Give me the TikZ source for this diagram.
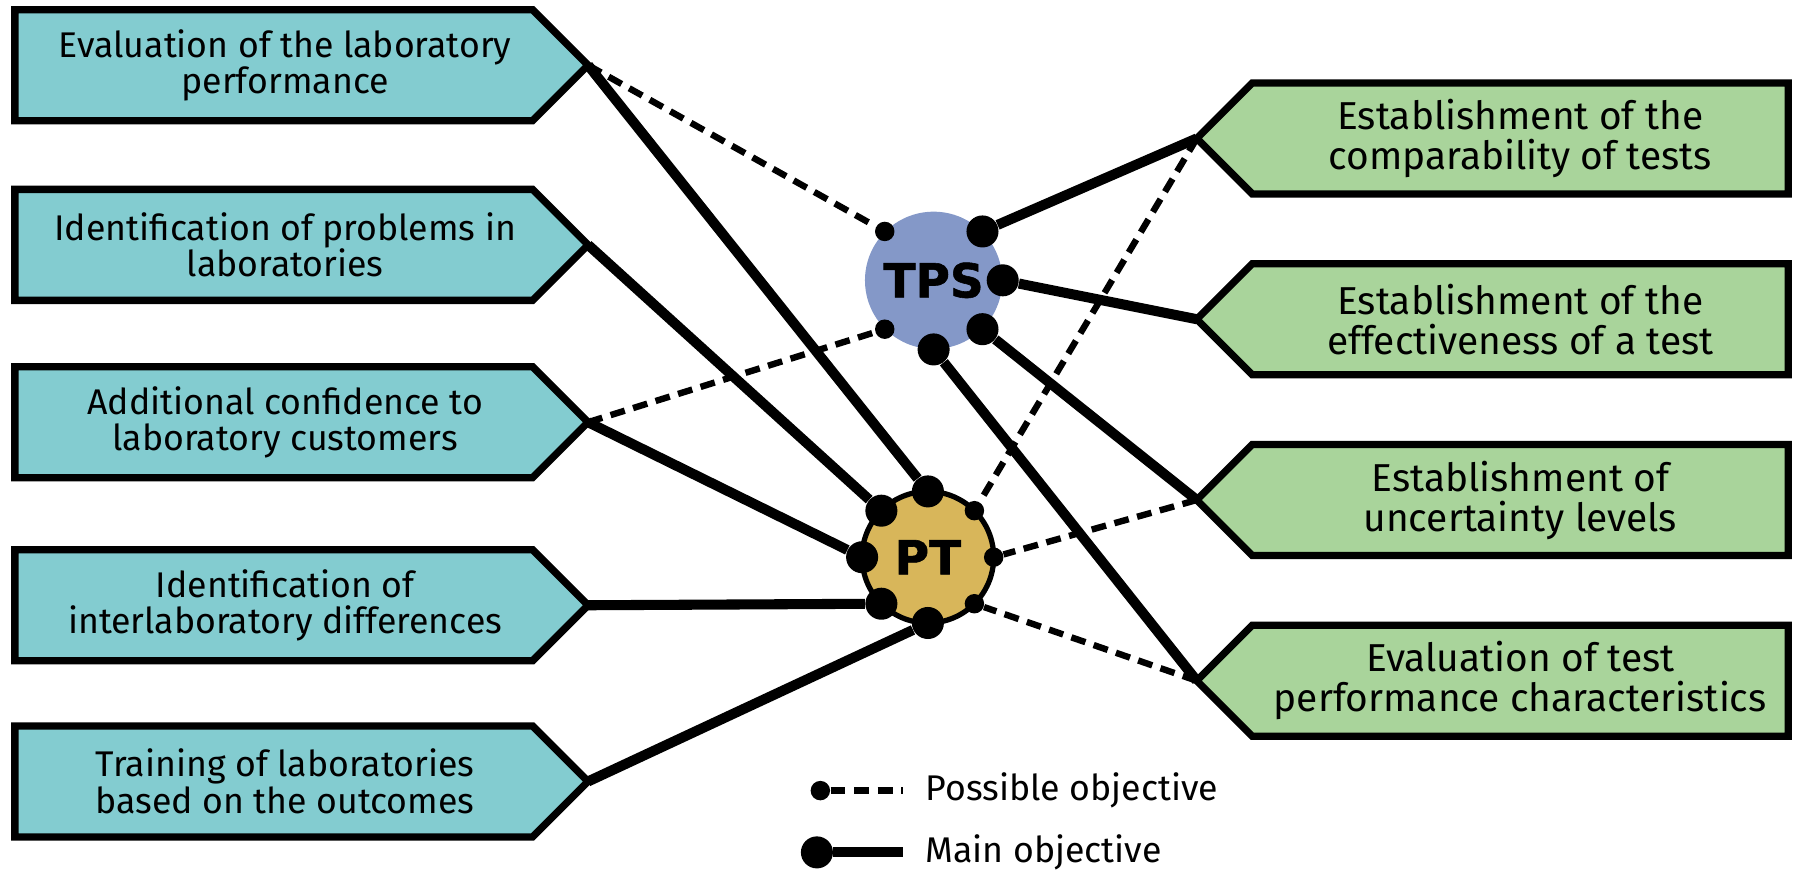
\documentclass[tikz,border=0pt]{standalone}
\usepackage{fontspec}
\setmainfont{Fira Sans}
\newfontfamily\heavyfont{DejaVu Sans}[BoldFeatures={FakeBold=1.2}]
\usetikzlibrary{shapes.symbols}

\definecolor{labcyan}{RGB}{131,204,208}
\definecolor{labgreen}{RGB}{169,212,155}
\definecolor{tpsblue}{RGB}{132,152,200}
\definecolor{ptgold}{RGB}{216,182,90}

\tikzset{
  objbox/.style={signal, signal pointer angle=90, draw=black, line width=3.2pt,
    outer sep=0pt, minimum height=48.5pt, align=center},
  leftbox/.style={objbox, fill=labcyan, signal to=east, minimum width=250.5pt, anchor=east},
  rightbox/.style={objbox, fill=labgreen, signal to=west, minimum width=258.5pt, anchor=west,
    font=\fontsize{17}{17.5}\selectfont},
  lefttext/.style={align=center, inner sep=0pt, font=\fontsize{15.6}{16}\selectfont},
  scheme/.style={circle, inner sep=0pt, font=\heavyfont\bfseries\fontsize{20.5}{20.5}\selectfont},
  bigdot/.style={circle, fill=black, inner sep=0pt, minimum size=14pt},
  smalldot/.style={circle, fill=black, inner sep=0pt, minimum size=8.5pt},
  main/.style={line width=4.4pt},
  possible/.style={line width=2.8pt, dash pattern=on 6.5pt off 3.8pt},
  legtext/.style={anchor=west, font=\fontsize{15.6}{16}\selectfont}
}

\begin{document}
\begin{tikzpicture}[x=0.5pt, y=-0.5pt]
  \useasboundingbox (0,0) rectangle (1568,761);

  % objectives on the left
  \node[leftbox] (l1) at (514,57) {};
  \node[leftbox] (l2) at (514,214) {};
  \node[leftbox] (l3) at (514,369) {};
  \node[leftbox] (l4) at (514,529) {};
  \node[leftbox] (l5) at (514,683) {};
  \node[lefttext] (l1txt) at ([xshift=5pt]l1.center) {Evaluation of the laboratory\\performance};
  \node[lefttext] (l2txt) at ([xshift=5pt]l2.center) {Identification of problems in\\laboratories};
  \node[lefttext] (l3txt) at ([xshift=5pt]l3.center) {Additional confidence to\\laboratory customers};
  \node[lefttext] (l4txt) at ([xshift=5pt]l4.center) {Identification of\\interlaboratory differences};
  \node[lefttext] (l5txt) at ([xshift=5pt]l5.center) {Training of laboratories\\based on the outcomes};

  % objectives on the right
  \node[rightbox] (r1) at (1046,121) {Establishment of the\\comparability of tests};
  \node[rightbox] (r2) at (1046,279) {Establishment of the\\effectiveness of a test};
  \node[rightbox] (r3) at (1046,437) {Establishment of\\uncertainty levels};
  \node[rightbox] (r4) at (1046,595) {Evaluation of test\\performance characteristics};

  % the two schemes
  \node[scheme, fill=tpsblue, minimum size=60pt] (tps) at (816,245) {TPS};
  \node[scheme, fill=ptgold, draw=black, line width=2.3pt, outer sep=0pt,
    minimum size=57.5pt] (pt) at (811,487) {PT};

  % dots on the border
  \foreach \a/\n in {45/b, 0/c, -45/e, -90/f}
    \node[bigdot] (tps\n) at (tps.\a) {};
  \foreach \a/\n in {135/a, 225/d}
    \node[smalldot] (tps\n) at (tps.\a) {};
  \foreach \a/\n in {90/a, 135/b, 180/d, 225/f, 270/h}
    \node[bigdot] (pt\n) at (pt.\a) {};
  \foreach \a/\n in {45/c, 0/e, -45/g}
    \node[smalldot] (pt\n) at (pt.\a) {};

  % main objectives
  \draw[main] (l1.east) -- (pta);
  \draw[main] (l2.east) -- (ptb);
  \draw[main] (l3.east) -- (ptd);
  \draw[main] (l4.east) -- (ptf);
  \draw[main] (l5.east) -- (pth);
  \draw[main] (r1.west) -- (tpsb);
  \draw[main] (r2.west) -- (tpsc);
  \draw[main] (r3.west) -- (tpse);
  \draw[main] (r4.west) -- (tpsf);

  % possible objectives
  \draw[possible] (l1.east) -- (tpsa);
  \draw[possible] (l3.east) -- (tpsd);
  \draw[possible] (r1.west) -- (ptc);
  \draw[possible] (r3.west) -- (pte);
  \draw[possible] (r4.west) -- (ptg);

  % legend
  \node[smalldot] (lgpos) at (717,691) {};
  \coordinate (lgposend) at (789,691);
  \draw[possible] (lgpos) -- (lgposend);
  \node[legtext] (lgpostxt) at (802,691) {Possible objective};
  \node[bigdot] (lgmain) at (714,745) {};
  \coordinate (lgmainend) at (789,745);
  \draw[main] (lgmain) -- (lgmainend);
  \node[legtext] (lgmaintxt) at (802,745) {Main objective};
\end{tikzpicture}
\end{document}
